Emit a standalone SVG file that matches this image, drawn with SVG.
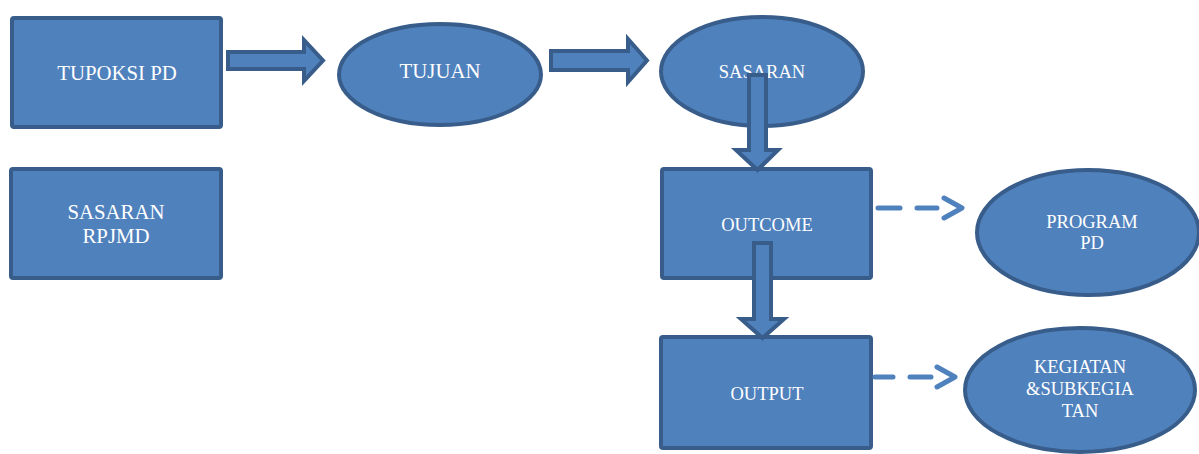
<svg xmlns="http://www.w3.org/2000/svg" width="1199" height="454" viewBox="0 0 1199 454">
  <style>
    .shape { fill: #4f81bd; stroke: #385d8a; stroke-width: 4; stroke-linejoin: miter; }
    .label { fill: #ffffff; font-family: "Liberation Serif", "Times New Roman", serif; text-anchor: middle; }
    .big { font-size: 20.8px; }
    .small { font-size: 18.5px; }
    .dash { fill: none; stroke: #4f81bd; stroke-width: 5; stroke-linecap: round; stroke-linejoin: round; }
  </style>
  <rect width="1199" height="454" fill="#ffffff"/>

  <!-- nodes -->
  <g id="tupoksi-pd">
    <rect class="shape" x="12" y="18" width="209" height="109" rx="2"/>
    <text class="label big" x="117" y="80">TUPOKSI PD</text>
  </g>
  <g id="sasaran-rpjmd">
    <rect class="shape" x="11" y="169" width="210" height="109" rx="2"/>
    <text class="label big" x="116" y="219">SASARAN</text>
    <text class="label big" x="116" y="243">RPJMD</text>
  </g>
  <g id="tujuan">
    <ellipse class="shape" cx="440" cy="74.5" rx="101" ry="50.5"/>
    <text class="label big" x="440" y="78">TUJUAN</text>
  </g>
  <g id="sasaran">
    <ellipse class="shape" cx="762" cy="71.5" rx="101" ry="54.5"/>
    <text class="label small" x="762" y="78">SASARAN</text>
  </g>
  <g id="outcome">
    <rect class="shape" x="662" y="169" width="209" height="109" rx="2"/>
    <text class="label small" x="767" y="231">OUTCOME</text>
  </g>
  <g id="output">
    <rect class="shape" x="661" y="337" width="210" height="111" rx="2"/>
    <text class="label small" x="767" y="400">OUTPUT</text>
  </g>
  <g id="program-pd">
    <ellipse class="shape" cx="1088" cy="232.5" rx="111" ry="62.5"/>
    <text class="label small" x="1092" y="228">PROGRAM</text>
    <text class="label small" x="1092" y="249">PD</text>
  </g>
  <g id="kegiatan">
    <ellipse class="shape" cx="1080" cy="390" rx="115" ry="62"/>
    <text class="label small" x="1080" y="373">KEGIATAN</text>
    <text class="label small" x="1080" y="395">&amp;SUBKEGIA</text>
    <text class="label small" x="1080" y="417">TAN</text>
  </g>

  <!-- connectors -->
  <g id="connectors">
    <path class="shape" d="M228,52 H304 V40 L323,60.5 L304,81 V69 H228 Z"/>
    <path class="shape" d="M551,51 H628 V39 L647,60.5 L628,82 V70 H551 Z"/>
    <path class="shape" d="M749,75 H766 V150 H778 L757.5,170 L736,150 H749 Z"/>
    <path class="shape" d="M754,243 H771 V319 H784 L762.5,338 L741,319 H754 Z"/>
    <path class="dash" d="M878,208 H900 M917,208 H937"/>
    <polyline class="dash" points="944,198 962,208 944,218"/>
    <path class="dash" d="M875,377 H893 M910,377 H931"/>
    <polyline class="dash" points="937,367 955,377 937,387"/>
  </g>
</svg>
